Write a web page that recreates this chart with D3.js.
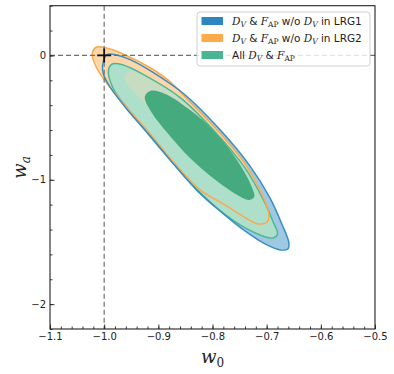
<!DOCTYPE html>
<html>
<head>
<meta charset="utf-8">
<script src="https://cdn.jsdelivr.net/npm/d3@7"></script>
<style>
  body { margin: 0; background: #fff; }
  svg { display: block; }
</style>
</head>
<body>
<svg id="chart" width="394" height="374"></svg>
<script>
// contour outlines, as [w0, wa]
const lrg1Outer = [[-1.003, -0.083], [-0.995, 0.006], [-0.979, 0.006], [-0.952, -0.034], [-0.915, -0.123], [-0.851, -0.316], [-0.786, -0.598], [-0.731, -0.888], [-0.694, -1.145], [-0.672, -1.355], [-0.659, -1.508], [-0.661, -1.556], [-0.675, -1.564], [-0.703, -1.516], [-0.740, -1.411], [-0.782, -1.266], [-0.826, -1.097], [-0.869, -0.888], [-0.915, -0.647], [-0.957, -0.438], [-0.988, -0.261], [-1.001, -0.155]];
const lrg2Outer = [[-1.022, 0.014], [-1.015, 0.066], [-0.997, 0.062], [-0.962, 0.006], [-0.915, -0.099], [-0.878, -0.212], [-0.851, -0.332], [-0.790, -0.607], [-0.740, -0.872], [-0.709, -1.113], [-0.696, -1.275], [-0.699, -1.339], [-0.716, -1.355], [-0.745, -1.291], [-0.777, -1.202], [-0.823, -1.081], [-0.869, -0.872], [-0.915, -0.631], [-0.957, -0.422], [-0.993, -0.236], [-1.015, -0.091]];
const allOuter = [[-0.992, -0.115], [-0.984, -0.067], [-0.966, -0.075], [-0.923, -0.164], [-0.859, -0.341], [-0.795, -0.615], [-0.740, -0.904], [-0.706, -1.162], [-0.688, -1.339], [-0.680, -1.436], [-0.688, -1.468], [-0.712, -1.444], [-0.749, -1.363], [-0.790, -1.234], [-0.830, -1.073], [-0.875, -0.856], [-0.919, -0.631], [-0.958, -0.421], [-0.984, -0.260]];
const lrg2Inner = [[-0.962, -0.163], [-0.951, -0.123], [-0.921, -0.164], [-0.866, -0.324], [-0.811, -0.550], [-0.764, -0.800], [-0.737, -1.017], [-0.731, -1.121], [-0.740, -1.137], [-0.764, -1.065], [-0.811, -0.896], [-0.857, -0.695], [-0.903, -0.477], [-0.940, -0.316], [-0.958, -0.227]];
const allInner = [[-0.925, -0.332], [-0.914, -0.284], [-0.888, -0.308], [-0.842, -0.437], [-0.795, -0.615], [-0.755, -0.840], [-0.729, -1.041], [-0.723, -1.138], [-0.733, -1.162], [-0.755, -1.121], [-0.795, -1.000], [-0.842, -0.823], [-0.882, -0.630], [-0.912, -0.461]];

const xMajor = [-1.1, -1.0, -0.9, -0.8, -0.7, -0.6, -0.5];
const yMajor = [0, -1, -2];
const fiducial = [-1, 0];

const legendNames = ["LRG1", "LRG2", "All"];

const width = 394, height = 374;
const margin = { top: 5.7, right: 19, bottom: 45, left: 50 };

const svg = d3.select("#chart");

const x = d3.scaleLinear().domain([-1.1, -0.5]).range([margin.left, width - margin.right]);
const y = d3.scaleLinear().domain([-2.2, 0.4]).range([height - margin.bottom, margin.top]);

const colors = {
  LRG1: { line: "#3a8dc6", light: "#9fc9e3", legend: "#2c86c0" },
  LRG2: { line: "#f9aa4d", light: "#fdd7aa", legend: "#fdab4a" },
  All: { line: "#4db893", light: "#aedfca", dark: "#45aa7e", legend: "#4ab592" }
};

const plot = svg.append("g");
plot.append("clipPath").attr("id", "clip")
  .append("rect")
  .attr("x", margin.left).attr("y", margin.top)
  .attr("width", x(-0.5) - x(-1.1)).attr("height", y(-2.2) - y(0.4));

const body = plot.append("g").attr("clip-path", "url(#clip)");

const line = d3.line()
  .x(d => x(d[0]))
  .y(d => y(d[1]))
  .curve(d3.curveCatmullRomClosed.alpha(0.5));

// fills
body.append("path").attr("d", line(lrg1Outer)).attr("fill", colors.LRG1.light);
body.append("path").attr("d", line(lrg2Outer)).attr("fill", colors.LRG2.light);
body.append("path").attr("d", line(allOuter)).attr("fill", colors.All.light);
body.append("path").attr("d", line(lrg2Inner)).attr("fill", "#c8dcc2");
body.append("path").attr("d", line(allInner)).attr("fill", colors.All.dark);

// outlines
body.append("path").attr("d", line(allOuter)).attr("fill", "none")
  .attr("stroke", colors.All.line).attr("stroke-width", 1.5);
body.append("path").attr("d", line(lrg2Outer)).attr("fill", "none")
  .attr("stroke", colors.LRG2.line).attr("stroke-width", 1.5);
body.append("path").attr("d", line(lrg1Outer)).attr("fill", "none")
  .attr("stroke", colors.LRG1.line).attr("stroke-width", 1.5);

// reference lines
body.append("line")
  .attr("x1", x(fiducial[0])).attr("x2", x(fiducial[0]))
  .attr("y1", y(0.4)).attr("y2", y(-2.2))
  .attr("stroke", "#707070").attr("stroke-width", 1.2).attr("stroke-dasharray", "5,3");
body.append("line")
  .attr("x1", x(-1.1)).attr("x2", x(-0.5))
  .attr("y1", y(fiducial[1])).attr("y2", y(fiducial[1]))
  .attr("stroke", "#707070").attr("stroke-width", 1.2).attr("stroke-dasharray", "5,3");

body.append("path")
  .attr("transform", `translate(${x(fiducial[0])},${y(fiducial[1])})`)
  .attr("d", "M-7,0H7M0,-7V7")
  .attr("stroke", "#111").attr("stroke-width", 1.8);

// axes
const fmt = d => (d3.format(".1f")(d)).replace("-", "\u2212");
const fmtY = d => d3.format("d")(d).replace("-", "\u2212");

const xMinor = d3.range(-1.1, -0.499, 0.02);
const yMinor = d3.range(-2.2, 0.401, 0.2);

const gx = svg.append("g").attr("transform", `translate(0,${y(-2.2)})`);
gx.call(d3.axisBottom(x).tickValues(xMinor).tickSize(-2.5).tickFormat(""));
gx.call(g => g.select(".domain").remove());
const gx2 = svg.append("g").attr("transform", `translate(0,${y(-2.2)})`);
gx2.call(d3.axisBottom(x).tickValues(xMajor).tickSize(-4.5).tickPadding(4).tickFormat(fmt));
gx2.call(g => g.select(".domain").remove());

const gy = svg.append("g").attr("transform", `translate(${x(-1.1)},0)`);
gy.call(d3.axisLeft(y).tickValues(yMinor).tickSize(-2.5).tickFormat(""));
gy.call(g => g.select(".domain").remove());
const gy2 = svg.append("g").attr("transform", `translate(${x(-1.1)},0)`);
gy2.call(d3.axisLeft(y).tickValues(yMajor).tickSize(-4.5).tickPadding(4).tickFormat(fmtY));
gy2.call(g => g.select(".domain").remove());

svg.selectAll(".tick line").attr("stroke", "#222").attr("stroke-width", 0.9);
svg.selectAll(".tick text")
  .attr("font-family", "DejaVu Sans")
  .attr("font-size", 10)
  .attr("fill", "#222");

svg.append("rect")
  .attr("x", x(-1.1)).attr("y", y(0.4))
  .attr("width", x(-0.5) - x(-1.1)).attr("height", y(-2.2) - y(0.4))
  .attr("fill", "none").attr("stroke", "#222").attr("stroke-width", 1.1);

// axis labels
const xl = svg.append("text")
  .attr("x", (x(-1.1) + x(-0.5)) / 2).attr("y", 363)
  .attr("text-anchor", "middle")
  .attr("font-family", "DejaVu Serif").attr("font-size", 18).attr("fill", "#222");
xl.append("tspan").attr("font-style", "italic").text("w");
xl.append("tspan").attr("font-size", 12).attr("dy", 4).text("0");

const yl = svg.append("text")
  .attr("transform", `translate(26,${(y(0.4) + y(-2.2)) / 2}) rotate(-90)`)
  .attr("text-anchor", "middle")
  .attr("font-family", "DejaVu Serif").attr("font-size", 18).attr("fill", "#222");
yl.append("tspan").attr("font-style", "italic").text("w");
yl.append("tspan").attr("font-style", "italic").attr("font-size", 12).attr("dy", 4).text("a");

// legend
const legend = svg.append("g").attr("transform", "translate(197,12)");
legend.append("rect")
  .attr("width", 173).attr("height", 54).attr("rx", 3)
  .attr("fill", "#fff").attr("fill-opacity", 0.8)
  .attr("stroke", "#d0d0d0").attr("stroke-width", 1);

const labelParts = {
  LRG1: [["D", "mi"], ["V", "subi"], [" & ", "s"], ["F", "mi"], ["AP", "sub"], [" w/o ", "s"], ["D", "mi"], ["V", "subi"], [" in LRG1", "s"]],
  LRG2: [["D", "mi"], ["V", "subi"], [" & ", "s"], ["F", "mi"], ["AP", "sub"], [" w/o ", "s"], ["D", "mi"], ["V", "subi"], [" in LRG2", "s"]],
  All: [["All ", "s"], ["D", "mi"], ["V", "subi"], [" & ", "s"], ["F", "mi"], ["AP", "sub"]]
};

legendNames.forEach((name, i) => {
  const cy = 9 + i * 17;
  legend.append("rect")
    .attr("x", 4.5).attr("y", cy - 4).attr("width", 21.5).attr("height", 8)
    .attr("fill", colors[name].legend);
  const t = legend.append("text")
    .attr("x", 35).attr("y", cy + 4)
    .attr("font-family", "DejaVu Sans").attr("font-size", 10.5).attr("fill", "#222");
  let shift = 0;
  labelParts[name].forEach(([s, kind]) => {
    const sp = t.append("tspan").text(s).attr("xml:space", "preserve");
    if (kind === "mi") {
      sp.attr("font-family", "DejaVu Serif").attr("font-style", "italic");
    }
    if (kind === "sub" || kind === "subi") {
      sp.attr("font-family", "DejaVu Serif").attr("font-size", 7.5).attr("dy", 2 - shift);
      if (kind === "subi") sp.attr("font-style", "italic");
      shift = 2;
    } else {
      sp.attr("dy", -shift);
      shift = 0;
    }
  });
});
</script>
</body>
</html>
